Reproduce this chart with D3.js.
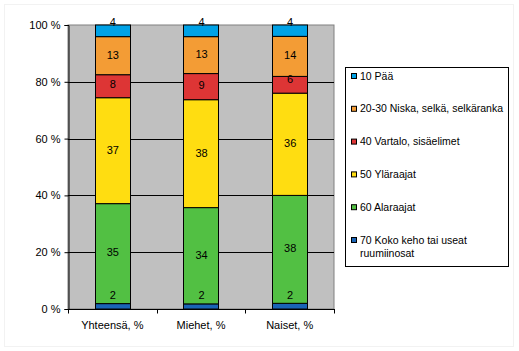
<!DOCTYPE html>
<html lang='fi'>
<head>
   <meta charset='UTF-8'>
   <title>Vamman sijainti</title>
   <script src='https://d3js.org/d3.v7.min.js'></script>
   <style>
      body { margin: 0; background: #fff; }
      svg { display: block; font-family: Arial, 'Liberation Sans', sans-serif; }
   </style>
</head>
<body>
   <div id='chart'></div>
   <script>
      // categories (x axis)
      const groups = ['Yhteensä, %', 'Miehet, %', 'Naiset, %'];
      // series, bottom of stack first
      const seriesNames = ['70 Koko keho tai useat ruumiinosat', '60 Alaraajat', '50 Yläraajat',
         '40 Vartalo, sisäelimet', '20-30 Niska, selkä, selkäranka', '10 Pää'];
      const seriesColors = ['#1a64b6', '#52c043', '#ffdd11', '#dd3535', '#f39c35', '#00a2e6'];
      // values per series, one per group (percent)
      const koko = [1.9, 1.8, 2.0];
      const ala = [35.2, 33.9, 38.0];
      const yla = [37.3, 38.0, 36.0];
      const vartalo = [8.1, 9.2, 5.9];
      const niska = [13.4, 13.0, 14.1];
      const paa = [4.1, 4.1, 4.0];
      const yTicks = [0, 20, 40, 60, 80, 100];

      const values = [koko, ala, yla, vartalo, niska, paa];
      const table = groups.map((g, i) => {
         const row = { group: g };
         seriesNames.forEach((s, j) => row[s] = values[j][i]);
         return row;
      });

      const W = 519, H = 351;
      const plot = { left: 68, top: 25, right: 334, bottom: 309 };

      const svg = d3.select('#chart').append('svg').attr('width', W).attr('height', H);

      // faint outer frame
      svg.append('rect').attr('x', 4.5).attr('y', 4.5).attr('width', 509).attr('height', 342)
         .attr('fill', 'none').attr('stroke', '#f2f2f2');

      const x = d3.scaleBand().domain(groups).range([plot.left, plot.right])
         .paddingInner(0.6).paddingOuter(0.3);
      const y = d3.scaleLinear().domain([0, 100]).range([plot.bottom, plot.top]);

      // plot background
      svg.append('rect').attr('x', plot.left).attr('y', plot.top)
         .attr('width', plot.right - plot.left).attr('height', plot.bottom - plot.top)
         .attr('fill', '#c0c0c0').attr('stroke', '#808080');

      // gridlines
      svg.append('g').selectAll('line').data(yTicks.slice(1, -1)).join('line')
         .attr('x1', plot.left).attr('x2', plot.right)
         .attr('y1', d => Math.round(y(d)) + 0.5).attr('y2', d => Math.round(y(d)) + 0.5)
         .attr('stroke', '#000');

      const stack = d3.stack().keys(seriesNames).offset(d3.stackOffsetExpand);
      const stacked = stack(table);

      const layers = svg.append('g').selectAll('g').data(stacked).join('g')
         .attr('fill', (d, i) => seriesColors[i]);

      layers.selectAll('rect').data(d => d).join('rect')
         .attr('x', d => Math.round(x(d.data.group)) + 0.5)
         .attr('y', d => y(d[1] * 100))
         .attr('width', Math.round(x.bandwidth()))
         .attr('height', d => y(d[0] * 100) - y(d[1] * 100))
         .attr('stroke', '#000').attr('stroke-width', 1);

      // value labels, drawn above all segments
      const labels = svg.append('g');
      stacked.forEach(layer => {
         labels.append('g').selectAll('text').data(layer).join('text')
            .attr('x', d => x(d.data.group) + x.bandwidth() / 2 + 0.5)
            .attr('y', d => {
               const top = y(d[1] * 100), bot = y(d[0] * 100);
               return Math.min((top + bot) / 2 - 1, bot - 14);
            })
            .attr('dy', '0.35em')
            .attr('text-anchor', 'middle')
            .attr('font-size', 11)
            .attr('fill', '#000')
            .text(d => Math.round(d.data[layer.key]));
      });

      // y axis
      const yAxis = svg.append('g').attr('transform', `translate(${plot.left + 0.5},0)`)
         .call(d3.axisLeft(y).tickValues(yTicks).tickSize(4).tickPadding(4).tickFormat(d => d + ' %'));
      yAxis.select('.domain').attr('stroke', '#000');
      yAxis.selectAll('.tick text').attr('font-size', 11).attr('font-family', 'Arial, Liberation Sans, sans-serif').attr('fill', '#000');

      // x axis with ticks on band edges
      const xAxis = svg.append('g').attr('transform', `translate(0,${plot.bottom + 0.5})`);
      xAxis.append('line').attr('x1', plot.left).attr('x2', plot.right + 1).attr('stroke', '#000');
      const edges = groups.map(g => x(g) - x.step() * 0.3).concat([plot.right]);
      xAxis.selectAll('.edge').data(edges).join('line').attr('class', 'edge')
         .attr('x1', d => Math.round(d) + 0.5).attr('x2', d => Math.round(d) + 0.5)
         .attr('y1', 0).attr('y2', 4).attr('stroke', '#000');
      xAxis.selectAll('text').data(groups).join('text')
         .attr('x', d => x(d) + x.bandwidth() / 2)
         .attr('y', 19)
         .attr('text-anchor', 'middle').attr('font-size', 11).attr('fill', '#000')
         .text(d => d);

      // legend, top item first
      const legend = svg.append('g');
      legend.append('rect').attr('x', 345.5).attr('y', 67.5).attr('width', 163).attr('height', 199)
         .attr('fill', '#fff').attr('stroke', '#000');
      const legendItems = seriesNames.map((s, i) => ({ name: s, color: seriesColors[i] })).reverse();
      const li = legend.selectAll('g.item').data(legendItems).join('g').attr('class', 'item')
         .attr('transform', (d, i) => `translate(351, ${76 + i * 32.8})`);
      li.append('rect').attr('x', 0.5).attr('y', -2.5).attr('width', 5).attr('height', 5)
         .attr('fill', d => d.color).attr('stroke', '#000');
      li.append('text').attr('x', 9).attr('dy', '0.35em').attr('font-size', 10.5).attr('fill', '#000')
         .each(function (d) {
            const t = d3.select(this);
            if (d.name.startsWith('70')) {
               t.append('tspan').attr('x', 9).text('70 Koko keho tai useat');
               t.append('tspan').attr('x', 9).attr('dy', 13).text('ruumiinosat');
            } else {
               t.text(d.name);
            }
         });
   </script>
</body>
</html>
